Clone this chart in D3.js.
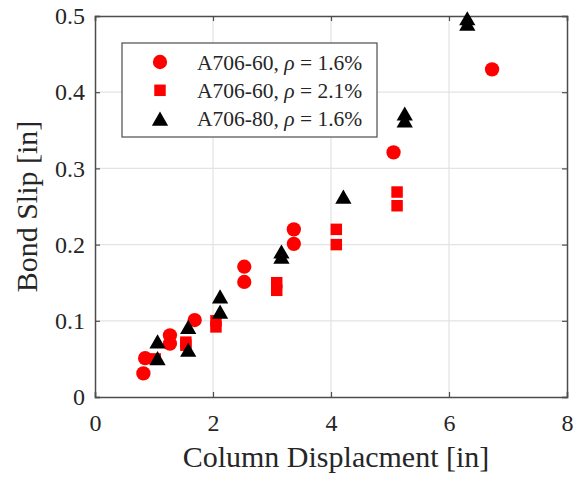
<!DOCTYPE html>
<html>
<head>
<meta charset="utf-8">
<script src="https://d3js.org/d3.v7.min.js"></script>
<style>
  body { margin: 0; background: #fff; }
  text { font-family: "Liberation Serif", "Times New Roman", serif; fill: #262626; }
</style>
</head>
<body>
<svg id="chart" width="574" height="479"></svg>
<script>
// column displacement [in] / bond slip [in]
var circleX = [0.82, 0.85, 1.27, 1.27, 1.69, 2.53, 2.53, 3.37, 3.37, 5.06, 6.73];
var circleY = [0.031, 0.051, 0.070, 0.081, 0.101, 0.151, 0.171, 0.201, 0.220, 0.321, 0.430];

var squareX = [1.02, 1.54, 1.54, 2.05, 2.05, 3.08, 3.08, 4.09, 4.09, 5.12, 5.12];
var squareY = [0.050, 0.068, 0.072, 0.092, 0.100, 0.140, 0.150, 0.200, 0.220, 0.251, 0.269];

var triX = [1.06, 1.06, 1.58, 1.58, 2.12, 2.12, 3.16, 3.16, 4.21, 5.25, 5.25, 6.31, 6.31];
var triY = [0.051, 0.073, 0.062, 0.092, 0.112, 0.132, 0.184, 0.191, 0.263, 0.363, 0.372, 0.490, 0.497];

var xTicks = [0, 2, 4, 6, 8];
var yTicks = [0, 0.1, 0.2, 0.3, 0.4, 0.5];
var legendLabels = ["A706-60, ", "A706-60, ", "A706-80, "];
var legendRho = ["1.6%", "2.1%", "1.6%"];

function pairs(xs, ys) {
	var out = [];
	for (var i = 0; i < xs.length; i++) {
		out.push({ x: xs[i], y: ys[i] });
	}
	return out;
}

// matlab style '^' marker, centred on its bounding box
var triUp = {
	draw: function(ctx, size) {
		var w = Math.sqrt(size) * 1.15, h = w * 0.87;
		ctx.moveTo(0, -h / 2);
		ctx.lineTo(w / 2, h / 2);
		ctx.lineTo(-w / 2, h / 2);
		ctx.closePath();
	}
};

var svg = d3.select("#chart"),
	MARGINS = { top: 16, right: 7, bottom: 82, left: 95 },
	WIDTH = 574, HEIGHT = 479;

var xScale = d3.scaleLinear().domain([0, 8]).range([MARGINS.left, WIDTH - MARGINS.right]);
var yScale = d3.scaleLinear().domain([0, 0.5]).range([HEIGHT - MARGINS.bottom, MARGINS.top]);

// grid
svg.append("g").selectAll("line").data(xTicks.slice(1, -1)).join("line")
	.attr("x1", function(d) { return xScale(d); }).attr("x2", function(d) { return xScale(d); })
	.attr("y1", yScale(0)).attr("y2", yScale(0.5))
	.attr("stroke", "#e3e3e3").attr("stroke-width", 1.2);
svg.append("g").selectAll("line").data(yTicks.slice(1, -1)).join("line")
	.attr("y1", function(d) { return yScale(d); }).attr("y2", function(d) { return yScale(d); })
	.attr("x1", xScale(0)).attr("x2", xScale(8))
	.attr("stroke", "#e3e3e3").attr("stroke-width", 1.2);

// axes (ticks inward, box on)
var xAxis = d3.axisBottom(xScale).tickValues(xTicks).tickSize(-5).tickPadding(17).tickFormat(d3.format("d"));
var yAxis = d3.axisLeft(yScale).tickValues(yTicks).tickSize(-5).tickPadding(10).tickFormat(function(d) { return d === 0 ? "0" : d3.format(".1f")(d); });
var xTop = d3.axisTop(xScale).tickValues(xTicks).tickSize(-5).tickFormat("");
var yRight = d3.axisRight(yScale).tickValues(yTicks).tickSize(-5).tickFormat("");

function styleAxis(g) {
	g.select(".domain").attr("stroke", "#4d4d4d").attr("stroke-width", 1.5);
	g.selectAll(".tick line").attr("stroke", "#4d4d4d").attr("stroke-width", 1.2);
	g.selectAll(".tick text").style("font-size", "24px").attr("fill", "#262626")
		.style("font-family", "'Liberation Serif', serif");
}

svg.append("g").attr("transform", "translate(0," + yScale(0) + ")").call(xAxis).call(styleAxis);
svg.append("g").attr("transform", "translate(" + xScale(0) + ",0)").call(yAxis).call(styleAxis);
svg.append("g").attr("transform", "translate(0," + yScale(0.5) + ")").call(xTop).call(styleAxis);
svg.append("g").attr("transform", "translate(" + xScale(8) + ",0)").call(yRight).call(styleAxis);

// axis titles
svg.append("text").attr("text-anchor", "middle")
	.attr("x", (xScale(0) + xScale(8)) / 2 + 5).attr("y", 467)
	.style("font-size", "30px").text("Column Displacment [in]");
svg.append("text").attr("text-anchor", "middle")
	.attr("transform", "translate(37," + ((yScale(0) + yScale(0.5)) / 2) + ") rotate(-90)")
	.style("font-size", "30px").text("Bond Slip [in]");

// data
var pts = svg.append("g");
pts.selectAll(".circ").data(pairs(circleX, circleY)).join("path").attr("class", "circ")
	.attr("d", d3.symbol().type(d3.symbolCircle).size(160))
	.attr("transform", function(d) { return "translate(" + xScale(d.x) + "," + yScale(d.y) + ")"; })
	.attr("fill", "#ff0000");
pts.selectAll(".sq").data(pairs(squareX, squareY)).join("path").attr("class", "sq")
	.attr("d", d3.symbol().type(d3.symbolSquare).size(132))
	.attr("transform", function(d) { return "translate(" + xScale(d.x) + "," + yScale(d.y) + ")"; })
	.attr("fill", "#ff0000");
pts.selectAll(".tri").data(pairs(triX, triY)).join("path").attr("class", "tri")
	.attr("d", d3.symbol().type(triUp).size(200))
	.attr("transform", function(d) { return "translate(" + xScale(d.x) + "," + yScale(d.y) + ")"; })
	.attr("fill", "#000");

// legend
var leg = svg.append("g");
leg.append("rect").attr("x", 122).attr("y", 43).attr("width", 255).attr("height", 94)
	.attr("fill", "#fff").attr("stroke", "#4d4d4d").attr("stroke-width", 1.2);
var legSymbols = [d3.symbolCircle, d3.symbolSquare, triUp];
var legSizes = [160, 132, 200];
var legColors = ["#ff0000", "#ff0000", "#000"];
legendLabels.forEach(function(lab, i) {
	var cy = 62 + i * 28.3;
	leg.append("path").attr("d", d3.symbol().type(legSymbols[i]).size(legSizes[i]))
		.attr("transform", "translate(160," + cy + ")").attr("fill", legColors[i]);
	var t = leg.append("text").attr("x", 197).attr("y", cy).attr("dy", "0.35em")
		.style("font-size", "21.5px");
	t.append("tspan").text(lab);
	t.append("tspan").style("font-style", "italic").text("ρ");
	t.append("tspan").text(" = " + legendRho[i]);
});
</script>
</body>
</html>
